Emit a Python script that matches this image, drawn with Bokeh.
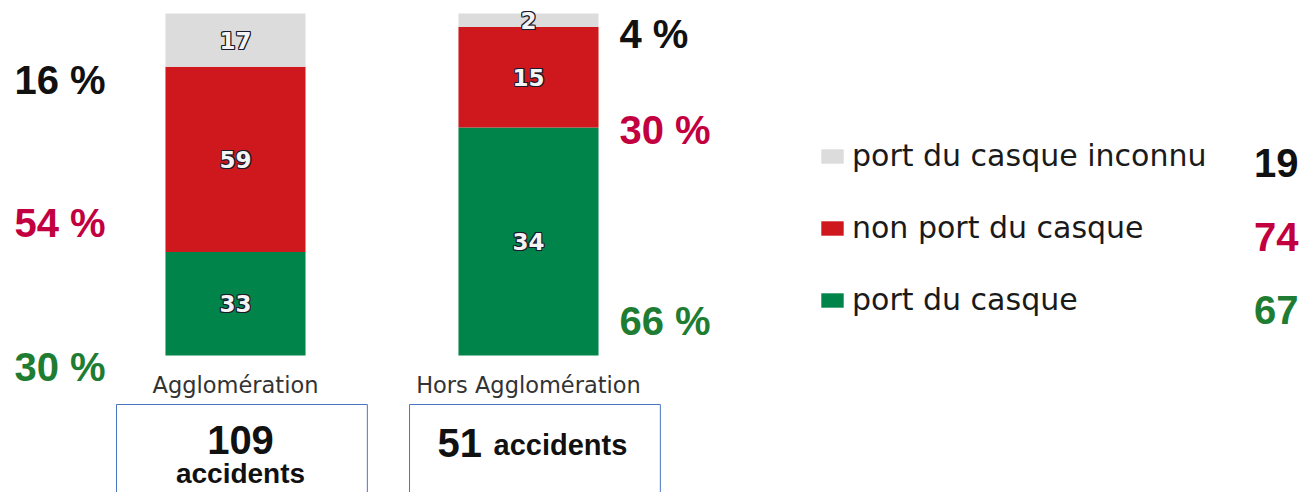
from bokeh.plotting import figure
from bokeh.models import Range1d, Label, Legend, LegendItem, ColumnDataSource
from bokeh.core.properties import value
from bokeh.embed import file_html
from bokeh.resources import INLINE

# ---- data ----
categories = ["Agglomération", "Hors Agglomération"]
series = ["port du casque", "non port du casque", "port du casque inconnu"]
port = [33, 34]
non_port = [59, 15]
inconnu = [17, 2]
pct_port = ["30 %", "66 %"]
pct_non = ["54 %", "30 %"]
pct_inconnu = ["16 %", "4 %"]

# ---- derived ----
totals = [a + b + c for a, b, c in zip(port, non_port, inconnu)]
xs = list(range(len(categories)))
share_port = [100.0 * v / t for v, t in zip(port, totals)]
share_non = [100.0 * v / t for v, t in zip(non_port, totals)]
share_inc = [100.0 * v / t for v, t in zip(inconnu, totals)]
series_totals = [sum(port), sum(non_port), sum(inconnu)]

GREEN, RED, GREY = "#00844a", "#cf181e", "#dcdcdc"
CRIMSON, DKGREEN, BLACK = "#c3003f", "#1e7d32", "#111111"
colors = [GREEN, RED, GREY]

W, H = 1303, 492
p = figure(width=W, height=H, output_backend="svg", toolbar_location=None,
           x_range=Range1d(-0.802, 3.645), y_range=Range1d(-40.06, 103.80),
           x_axis_location=None, y_axis_location=None, min_border=0,
           outline_line_color=None)
p.grid.visible = False

src = ColumnDataSource(dict(x=xs, port=share_port, non=share_non, inc=share_inc))
rs = p.vbar_stack(["port", "non", "inc"], x="x", width=0.478, source=src,
                  color=colors, line_color=None)

# value labels inside bars (outlined text)
mids_x, mids_y, mids_t = [], [], []
for i in xs:
    base = 0.0
    for sh, vals in ((share_port, port), (share_non, non_port), (share_inc, inconnu)):
        mids_x.append(i)
        mids_y.append(base + sh[i] / 2)
        mids_t.append(str(vals[i]))
        base += sh[i]
vsrc = ColumnDataSource(dict(x=mids_x, y=mids_y, t=mids_t))
for dx, dy in [(-1, -1), (-1, 0), (-1, 1), (0, -1), (0, 1), (1, -1), (1, 0), (1, 1)]:
    p.text(x="x", y="y", text="t", source=vsrc, x_offset=dx, y_offset=dy,
           text_align="center", text_baseline="middle",
           text_font=value("DejaVu Sans"), text_font_size="23px",
           text_font_style="bold", text_color="#1a1a2a")
p.text(x="x", y="y", text="t", source=vsrc, text_align="center", text_baseline="middle",
       text_font=value("DejaVu Sans"), text_font_size="23px", text_font_style="bold",
       text_color="#f4f4f4")

# category labels
csrc = ColumnDataSource(dict(x=xs, y=[0] * len(xs), t=categories))
p.text(x="x", y="y", text="t", source=csrc, y_offset=30, text_align="center",
       text_baseline="middle", text_font=value("DejaVu Sans"), text_font_size="22.5px",
       text_color="#333333")

# boxes under categories
bsrc = ColumnDataSource(dict(left=[i - 0.406 for i in xs], right=[i + 0.45 for i in xs],
                             top=[-14.33] * len(xs), bottom=[-60] * len(xs)))
p.quad(left="left", right="right", top="top", bottom="bottom", source=bsrc,
       fill_alpha=0, line_color="#4a76c0", line_width=1)

def lab(text, x, y, color, size="40px", align="left", bold=True, font="Liberation Sans"):
    p.add_layout(Label(x=x, y=y, x_units="screen", y_units="screen", text=text,
                       text_color=color, text_font_size=size, text_font=font,
                       text_font_style="bold" if bold else "normal",
                       text_align=align, text_baseline="middle"))

# percentage labels
lab(pct_inconnu[0], 14, H - 79, BLACK)
lab(pct_non[0], 14, H - 222, CRIMSON)
lab(pct_port[0], 14, H - 366, DKGREEN)
lab(pct_inconnu[1], 619, H - 33, BLACK)
lab(pct_non[1], 619, H - 129, CRIMSON)
lab(pct_port[1], 619, H - 320, DKGREEN)

# accident counts in boxes
lab(str(totals[0]), 240, H - 439, BLACK, align="center")
lab("accidents", 240, H - 473, BLACK, size="28px", align="center")
lab(str(totals[1]), 437, H - 442, BLACK)
lab("accidents", 493, H - 444, BLACK, size="29px")

# legend
legend = Legend(items=[LegendItem(label=series[2], renderers=[rs[2]]),
                       LegendItem(label=series[1], renderers=[rs[1]]),
                       LegendItem(label=series[0], renderers=[rs[0]])],
                location=(818, H - 317), orientation="vertical",
                glyph_width=28, glyph_height=18, label_standoff=6,
                label_text_font="DejaVu Sans", label_text_font_size="30px",
                label_text_color="#1a1a1a", label_height=30, spacing=37,
                padding=0, margin=0, border_line_color=None, background_fill_alpha=0)
p.add_layout(legend)

# legend totals
lab(str(series_totals[2]), 1298, H - 162, BLACK, align="right")
lab(str(series_totals[1]), 1298, H - 236, CRIMSON, align="right")
lab(str(series_totals[0]), 1298, H - 309, DKGREEN, align="right")

open("out.html", "w").write(file_html(p, INLINE))
